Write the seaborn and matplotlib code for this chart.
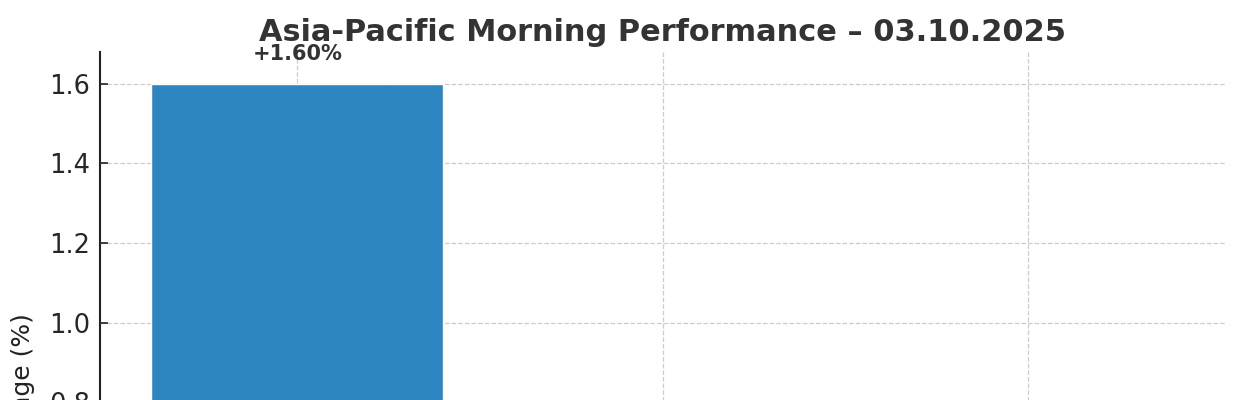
import matplotlib
matplotlib.use("Agg")
import matplotlib.pyplot as plt
import seaborn as sns

# Data (only the first bar is visible in the cropped reference)
markets = ["Nikkei 225", "Hang Seng", "ASX 200"]
changes = [1.60, 0.55, 0.30]
title = "Asia-Pacific Morning Performance \u2013 03.10.2025"
ylabel = "Change (%)"

sns.set_style("whitegrid")
plt.rcParams['font.family'] = ['DejaVu Sans']

fig = plt.figure(figsize=(12.4, 4), dpi=100)
# axes run past the bottom of the figure, like the cropped original
ax = fig.add_axes([100 / 1240, -321 / 400, 1125 / 1240, 669 / 400])

sns.barplot(x=markets, y=changes, color="#2E86C1", saturation=1, width=0.8, ax=ax)

for i, v in enumerate(changes):
    ax.text(i, v + 0.05, f"{v:+.2f}%", ha="center", va="bottom",
            fontsize=15, fontweight="bold", color="#333333")

ax.set_xlim(-0.54, 2.54)
ax.set_ylim(0, max(changes) * 1.05)
ax.set_title(title, fontsize=21.9, fontweight="bold", color="#333333", pad=8)
ax.set_ylabel(ylabel, fontsize=18, color="#222222", labelpad=10)
ax.set_xlabel("")
ax.tick_params(axis="y", labelsize=18.5, length=6, width=1.2, direction="in",
               pad=7, color="#222222", left=True)
ax.grid(True, linestyle="--", color="#cccccc", linewidth=0.9)
ax.set_axisbelow(True)
sns.despine(ax=ax, top=True, right=True)
ax.spines["left"].set_color("#222222")
ax.spines["left"].set_linewidth(1.5)

fig.savefig("out.png", dpi=100)
